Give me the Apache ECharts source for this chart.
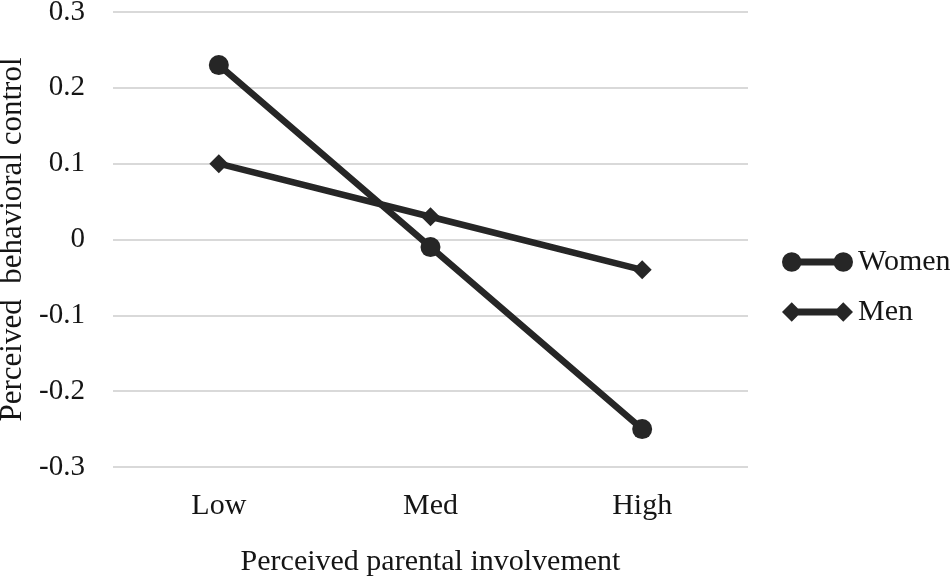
<!DOCTYPE html>
<html>
<head>
<meta charset="utf-8">
<script src="https://cdn.jsdelivr.net/npm/echarts@6/dist/echarts.min.js"></script>
<style>
  html, body { margin: 0; padding: 0; background: #fff; }
  #chart { width: 950px; height: 577px; }
</style>
</head>
<body>
<div id="chart"></div>
<script>
var categories = ['Low', 'Med', 'High'];
var women = [0.23, -0.01, -0.25];
var men = [0.10, 0.03, -0.04];
var yTicks = [-0.3, -0.2, -0.1, 0, 0.1, 0.2, 0.3];

var font = 'Liberation Serif';
var ink = '#262626';
var textColor = '#151515';

// legend icons: a short thick line with a marker at each end
var circleIcon = 'path://M0,10 A10,10 0 1,1 20,10 A10,10 0 1,1 0,10 Z ' +
  'M53,10 A10,10 0 1,1 73,10 A10,10 0 1,1 53,10 Z ' +
  'M10,6.5 L63,6.5 L63,13.5 L10,13.5 Z';
var diamondIcon = 'path://M0,10 L10,0 L20,10 L10,20 Z ' +
  'M53,10 L63,0 L73,10 L63,20 Z ' +
  'M10,6.5 L63,6.5 L63,13.5 L10,13.5 Z';

var chart = echarts.init(document.getElementById('chart'));
chart.setOption({
  animation: false,
  textStyle: { fontFamily: font },
  grid: { left: 113, right: 202, top: 12, bottom: 110, containLabel: false, outerBoundsMode: 'none' },
  legend: {
    orient: 'vertical',
    left: 782,
    top: 247,
    padding: 0,
    itemWidth: 71,
    itemHeight: 20,
    itemGap: 20,
    textStyle: { fontFamily: font, fontSize: 30, color: textColor },
    data: [
      { name: 'Women', icon: circleIcon },
      { name: 'Men', icon: diamondIcon }
    ]
  },
  xAxis: {
    type: 'category',
    data: categories,
    boundaryGap: true,
    axisLine: { show: false },
    axisTick: { show: false },
    axisLabel: { fontFamily: font, fontSize: 30, color: textColor, margin: 24 },
    name: 'Perceived parental involvement',
    nameLocation: 'middle',
    nameGap: 80,
    nameTextStyle: { fontFamily: font, fontSize: 30, color: textColor }
  },
  yAxis: {
    type: 'value',
    min: -0.3,
    max: 0.3,
    interval: 0.1,
    axisLine: { show: false },
    axisTick: { show: false },
    splitLine: { lineStyle: { color: '#d9d9d9', width: 2 } },
    axisLabel: {
      fontFamily: font, fontSize: 29, color: textColor, margin: 28,
      formatter: function (v) {
        var r = Math.round(v * 10) / 10;
        for (var i = 0; i < yTicks.length; i++) {
          if (Math.abs(yTicks[i] - r) < 1e-9) return String(yTicks[i]);
        }
        return '';
      }
    },
    name: 'Perceived  behavioral control',
    nameLocation: 'middle',
    nameGap: 76,
    nameTextStyle: { fontFamily: font, fontSize: 31, color: textColor }
  },
  series: [
    {
      name: 'Women',
      type: 'line',
      data: women,
      symbol: 'circle',
      symbolSize: 20,
      lineStyle: { color: ink, width: 6.5 },
      itemStyle: { color: ink }
    },
    {
      name: 'Men',
      type: 'line',
      data: men,
      symbol: 'diamond',
      symbolSize: 19,
      lineStyle: { color: ink, width: 6.5 },
      itemStyle: { color: ink }
    }
  ]
});
</script>
</body>
</html>
